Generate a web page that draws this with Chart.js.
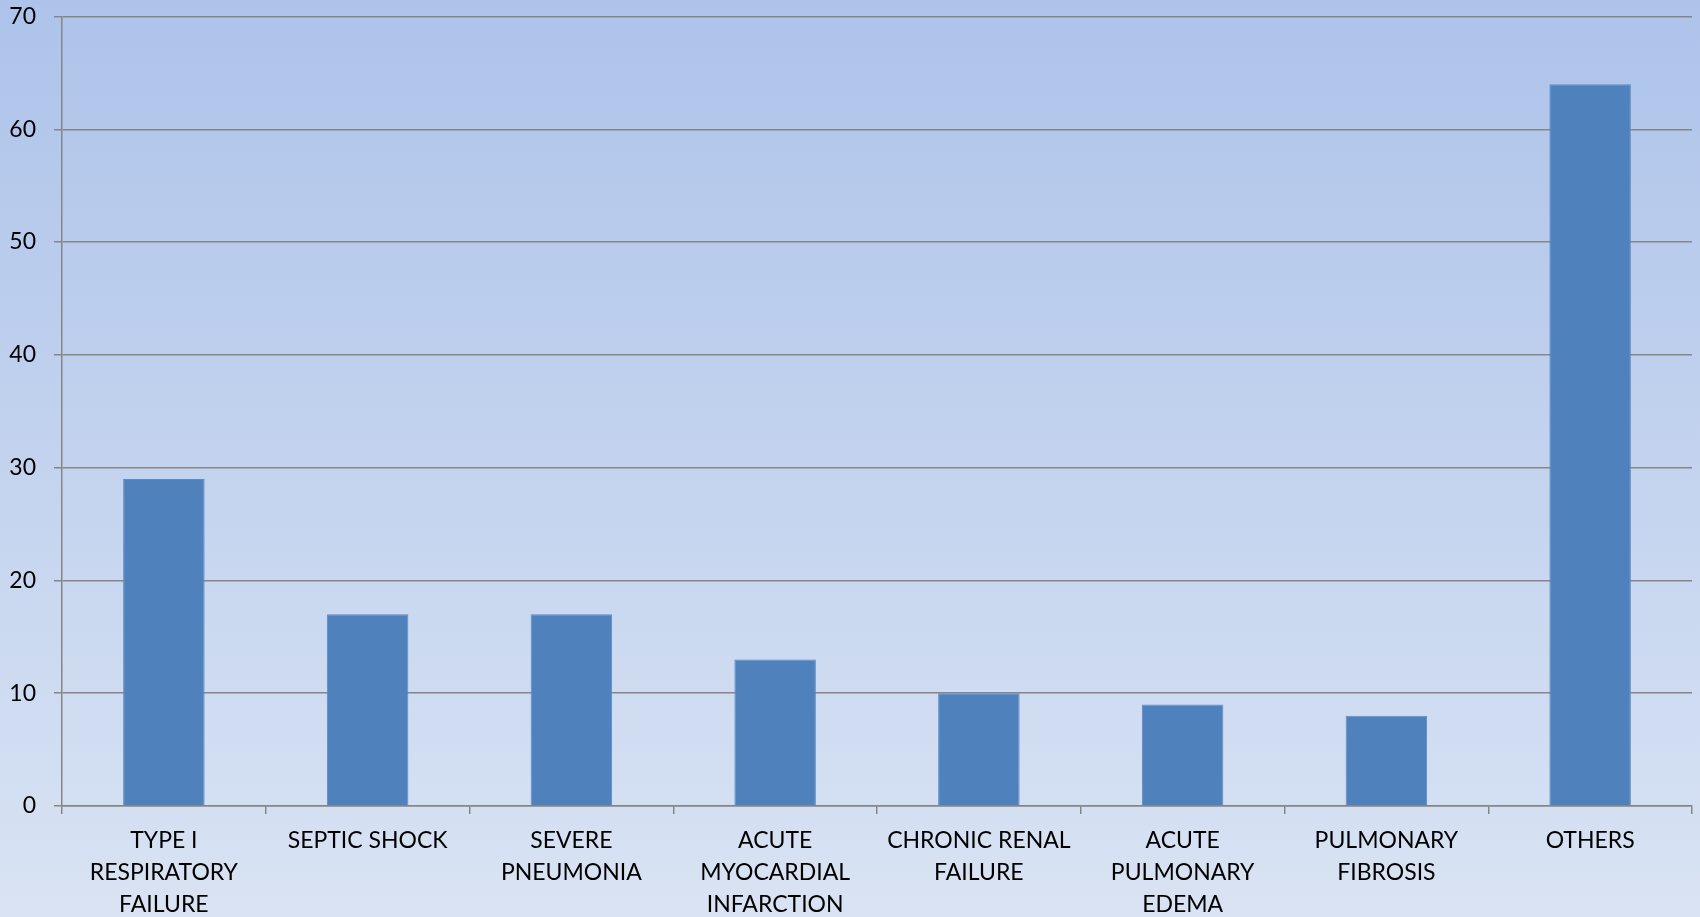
<!DOCTYPE html>
<html>
<head>
<meta charset="utf-8">
<script src="https://cdn.jsdelivr.net/npm/chart.js@4/dist/chart.umd.min.js"></script>
<style>
html,body{margin:0;padding:0;background:#d9e3f3;}
#wrap{width:1700px;height:917px;position:relative;}
</style>
</head>
<body>
<div id="wrap"><canvas id="c" width="1700" height="917"></canvas></div>
<script>
const categories = [
  ["TYPE I","RESPIRATORY","FAILURE"],
  "SEPTIC SHOCK",
  ["SEVERE","PNEUMONIA"],
  ["ACUTE","MYOCARDIAL","INFARCTION"],
  ["CHRONIC RENAL","FAILURE"],
  ["ACUTE","PULMONARY","EDEMA"],
  ["PULMONARY","FIBROSIS"],
  "OTHERS"
];
const values = [29, 17, 17, 13, 10, 9, 8, 64];
const yTicks = [0, 10, 20, 30, 40, 50, 60, 70];

const bgPlugin = {
  id: 'bg',
  beforeDraw(chart) {
    const ctx = chart.ctx;
    const g = ctx.createLinearGradient(0, 0, 0, chart.height);
    g.addColorStop(0, '#adc3ea');
    g.addColorStop(1, '#d9e3f3');
    ctx.save();
    ctx.fillStyle = g;
    ctx.fillRect(0, 0, chart.width, chart.height);
    ctx.restore();
  }
};

new Chart(document.getElementById('c'), {
  type: 'bar',
  data: {
    labels: categories,
    datasets: [{
      data: values,
      backgroundColor: '#4f81bd',
      borderColor: '#5b8cc6',
      borderWidth: 1,
      barPercentage: 0.4,
      categoryPercentage: 1.0
    }]
  },
  options: {
    responsive: false,
    animation: false,
    devicePixelRatio: 1,
    layout: { padding: { top: 0, right: 8, left: 0, bottom: 0 } },
    plugins: { legend: { display: false }, tooltip: { enabled: false } },
    scales: {
      x: {
        offset: true,
        grid: {
          offset: true,
          drawOnChartArea: false,
          drawTicks: true,
          tickLength: 8,
          color: '#868686',
          lineWidth: 1.5
        },
        border: { color: '#868686', width: 1.5 },
        ticks: {
          color: '#000',
          font: { family: 'Lato', size: 23, lineHeight: 1.41 },
          maxRotation: 0,
          autoSkip: false,
          padding: 10
        },
        afterFit(scale) { scale.height = 111; }
      },
      y: {
        min: 0,
        max: 70,
        afterBuildTicks(scale) { scale.ticks = yTicks.map(v => ({ value: v })); },
        grid: {
          color: '#868686',
          lineWidth: 1.5,
          tickLength: 8
        },
        border: { color: '#868686', width: 1.5 },
        ticks: {
          color: '#000',
          font: { family: 'Lato', size: 23 },
          padding: 18
        },
        afterFit(scale) { scale.width = 62; scale.paddingTop = 16.5; }
      }
    }
  },
  plugins: [bgPlugin]
});
</script>
</body>
</html>
